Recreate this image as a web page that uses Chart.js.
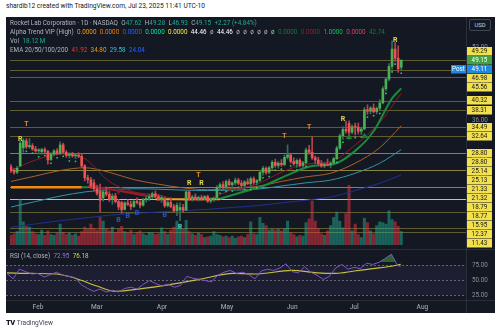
<!DOCTYPE html>
<html>
<head>
<meta charset="utf-8">
<title>RKLB 1D</title>
<script src="https://cdn.jsdelivr.net/npm/chart.js@4.4.1/dist/chart.umd.min.js"></script>
<style>
  html, body { margin: 0; padding: 0; width: 500px; height: 333px; background: #fff; overflow: hidden; font-family: Roboto, "Noto Sans", sans-serif; }
  #credit { position: absolute; left: 6px; top: 2px; font-size: 6.6px; line-height: 9px; color: #131722; white-space: nowrap; }
  #panel { position: absolute; left: 6px; top: 17px; width: 489px; height: 296px; background: #141823; overflow: hidden; }
  #panel canvas { position: absolute; left: 0; }
  .lg { position: absolute; left: 4px; font-size: 6.3px; line-height: 8px; color: #b2b5be; white-space: nowrap; }
  .lg b { font-weight: normal; margin-left: 3.4px; }
  .lg i { font-style: normal; margin-left: 3.4px; }
  #usd { position: absolute; left: 463px; top: 2px; width: 20px; height: 10px; border: 1px solid #434651; border-radius: 2px; background: #141823; color: #d1d4dc; font-size: 5.8px; line-height: 10px; text-align: center; }
  #footer { position: absolute; left: 6px; top: 318px; font-size: 6.6px; line-height: 9px; color: #434651; white-space: nowrap; }
  #footer b { font-weight: 900; font-size: 7.5px; color: #131722; letter-spacing: -0.5px; margin-right: 2px; }
</style>
</head>
<body>
<div id="credit">shardib12 created with TradingView.com, Jul 23, 2025 11:41 UTC-10</div>
<div id="panel">
  <canvas id="price" width="489" height="232" style="top:0"></canvas>
  <canvas id="rsi" width="489" height="64" style="top:232px"></canvas>
  <div class="lg" style="top:2px">Rocket Lab Corporation · 1D · NASDAQ<i>O</i><b style="color:#22ab94;margin:0">47.62</b><i>H</i><b style="color:#22ab94;margin:0">49.28</b><i>L</i><b style="color:#22ab94;margin:0">46.93</b><i>C</i><b style="color:#22ab94;margin:0">49.15</b><b style="color:#22ab94">+2.27 (+4.84%)</b></div>
  <div class="lg" style="top:11px">Alpha Trend VIP (High)<b style="color:#ff9800">0.0000</b><b style="color:#f57c00">0.0000</b><b style="color:#2962ff">0.0000</b><b style="color:#00e5a0">0.0000</b><b style="color:#ffeb3b">0.0000</b><b style="color:#ffffff">44.46</b><b>ø</b><b style="color:#ffffff">44.46</b><b>ø</b><b>ø</b><b>ø</b><b>ø</b><b>ø</b><b>ø</b><b style="color:#1b7a3a">0.0000</b><b style="color:#8e2430">0.0000</b><b style="color:#00c853">1.0000</b><b style="color:#e0405a">0.0000</b><b style="color:#1b7a3a">42.74</b></div>
  <div class="lg" style="top:20px">Vol<b style="color:#22ab94">18.12 M</b></div>
  <div class="lg" style="top:29px">EMA 20/50/100/200<b style="color:#f23645">41.92</b><b style="color:#ff9800">34.80</b><b style="color:#26c6da">29.58</b><b style="color:#2962ff">24.04</b></div>
  <div class="lg" style="top:235px">RSI (14, close)<b style="color:#9c6fe0">72.95</b><b style="color:#d4d63f">76.18</b></div>
  <div id="usd">USD</div>
</div>
<div id="footer"><b>TV</b>TradingView</div>

<script>
// daily bars, Jan 17 2025 (index 0) to Jul 23 2025 (index 127)
var opens = [25.8, 25.0, 24.6, 26.0, 30.0, 31.5, 30.2, 30.4, 29.7, 29.3,
  29.1, 29.6, 29.2, 27.4, 28.6, 29.3, 28.7, 30.6, 29.0, 28.3,
  28.6, 28.2, 28.4, 28.1, 26.0, 23.4, 23.0, 22.3, 21.0, 20.4,
  19.0, 20.3, 19.8, 18.6, 19.4, 18.2, 18.0, 16.5, 17.9, 17.6,
  17.1, 18.2, 18.0, 17.4, 18.6, 18.9, 19.3, 19.9, 19.3, 18.7,
  18.8, 17.3, 18.0, 17.1, 16.2, 16.4, 16.9, 16.3, 20.3, 18.9,
  19.2, 18.9, 19.1, 18.8, 19.3, 18.3, 18.6, 19.0, 21.3, 21.9,
  21.3, 22.6, 21.9, 22.3, 22.9, 22.2, 21.7, 22.5, 22.1, 23.2,
  22.4, 22.8, 24.6, 25.5, 24.6, 25.6, 26.8, 26.1, 26.6, 26.3,
  27.9, 28.4, 27.0, 26.5, 27.2, 26.1, 26.7, 29.5, 29.0, 27.8,
  27.3, 26.5, 26.0, 26.4, 26.2, 26.6, 27.6, 29.9, 32.6, 34.0,
  35.3, 33.4, 34.6, 34.5, 33.6, 34.1, 38.3, 38.0, 38.7, 37.9,
  38.6, 39.8, 42.9, 45.0, 47.8, 51.6, 49.6, 47.62];
var highs = [26.3, 25.4, 25.9, 31.5, 32.0, 32.0, 32.0, 30.9, 30.3, 29.8,
  29.9, 30.0, 29.4, 28.9, 29.6, 29.8, 31.3, 31.0, 29.4, 28.9,
  29.0, 28.7, 28.9, 28.7, 26.3, 24.0, 23.5, 23.0, 21.8, 22.0,
  20.8, 21.4, 20.4, 19.9, 20.0, 18.7, 18.3, 18.2, 18.6, 18.3,
  18.5, 19.0, 18.4, 18.9, 19.3, 19.8, 20.3, 20.5, 19.8, 19.5,
  19.2, 18.4, 19.0, 17.6, 17.9, 18.0, 17.6, 20.7, 20.6, 19.6,
  19.9, 19.4, 19.6, 19.5, 19.6, 19.0, 19.1, 21.7, 22.3, 22.6,
  22.9, 23.1, 22.5, 23.4, 23.3, 22.8, 22.8, 23.2, 23.6, 23.6,
  23.0, 25.0, 25.9, 25.8, 25.9, 27.2, 27.5, 27.0, 27.4, 28.4,
  30.6, 28.8, 27.8, 27.5, 27.6, 27.0, 29.9, 30.5, 32.4, 28.2,
  27.9, 27.2, 26.8, 27.5, 26.9, 27.9, 30.3, 33.0, 34.6, 35.8,
  35.9, 35.0, 35.4, 35.4, 34.5, 38.8, 39.4, 39.0, 39.6, 38.9,
  40.5, 43.4, 45.4, 48.4, 53.4, 53.0, 52.3, 49.28];
var lows = [24.6, 24.2, 24.3, 25.8, 29.0, 29.8, 29.9, 29.4, 29.0, 28.6,
  28.5, 28.9, 26.4, 27.2, 28.2, 28.4, 28.5, 28.7, 27.9, 27.7,
  27.9, 27.6, 27.8, 25.6, 22.7, 22.2, 21.0, 20.5, 19.6, 15.9,
  18.3, 19.4, 18.2, 17.6, 17.9, 16.4, 15.6, 16.3, 17.3, 16.4,
  16.9, 17.7, 16.8, 17.2, 18.1, 18.4, 18.8, 19.0, 18.4, 18.0,
  16.9, 17.0, 16.8, 15.9, 15.1, 14.0, 15.8, 16.2, 18.5, 18.3,
  18.6, 18.3, 18.4, 18.5, 18.0, 17.9, 18.2, 18.8, 20.6, 21.0,
  21.0, 21.6, 21.1, 21.8, 21.9, 21.3, 21.4, 21.9, 21.5, 22.0,
  21.8, 22.6, 24.0, 24.2, 24.3, 25.2, 25.7, 25.5, 25.9, 26.0,
  27.5, 26.6, 26.1, 25.7, 25.8, 25.4, 26.5, 28.6, 27.4, 26.6,
  26.2, 25.7, 25.6, 26.0, 25.6, 26.2, 27.4, 29.6, 31.8, 33.2,
  32.6, 33.0, 32.8, 33.0, 32.9, 33.9, 37.3, 37.4, 37.6, 37.4,
  38.1, 39.6, 42.5, 44.6, 47.2, 48.9, 46.5, 46.93];
var closes = [25.0, 24.6, 25.5, 31.0, 31.6, 30.2, 30.5, 29.7, 29.3, 29.5,
  29.6, 29.2, 27.3, 28.6, 29.3, 28.7, 30.6, 29.0, 28.3, 28.6,
  28.2, 28.4, 28.1, 26.0, 23.4, 23.0, 21.6, 21.0, 20.0, 18.5,
  20.3, 19.8, 18.6, 19.4, 18.2, 17.0, 16.4, 17.9, 17.6, 17.1,
  18.2, 18.0, 17.4, 18.6, 18.9, 19.3, 19.9, 19.3, 18.7, 19.1,
  17.3, 18.0, 17.1, 16.2, 17.4, 16.9, 16.3, 20.3, 18.9, 19.2,
  18.9, 19.1, 18.8, 19.3, 18.3, 18.6, 18.9, 21.3, 21.9, 21.3,
  22.6, 21.9, 22.3, 22.9, 22.2, 21.7, 22.5, 22.1, 23.2, 22.4,
  22.8, 24.6, 25.5, 24.6, 25.6, 26.8, 26.1, 26.6, 26.3, 27.9,
  28.4, 27.0, 26.5, 27.2, 26.1, 26.7, 29.5, 29.0, 27.8, 27.3,
  26.5, 26.0, 26.4, 26.2, 26.6, 27.6, 29.9, 32.6, 34.0, 33.7,
  33.4, 34.6, 34.5, 33.6, 34.1, 38.3, 38.0, 38.7, 37.9, 38.6,
  39.8, 42.9, 45.0, 47.8, 51.6, 49.6, 47.3, 49.15];
// volume in millions of shares
var volumes = [13, 15, 18, 61, 31, 25, 24, 18, 15, 14,
  20, 13, 19, 14, 13, 16, 28, 17, 14, 16,
  13, 15, 12, 18, 24, 21, 28, 22, 20, 37,
  32, 22, 19, 24, 17, 21, 25, 18, 16, 20,
  14, 17, 19, 15, 13, 17, 16, 14, 15, 23,
  18, 14, 20, 24, 32, 28, 21, 33, 18, 15,
  13, 16, 14, 10, 11, 12, 18, 14, 13, 11,
  12, 10, 12, 9, 11, 12, 10, 14, 31, 15,
  14, 37, 29, 26, 20, 21, 20, 21, 19, 22,
  32, 17, 14, 11, 13, 12, 30, 35, 59, 32,
  22, 15, 13, 19, 26, 37, 44, 32, 23, 42,
  80, 19, 28, 14, 10, 36, 30, 19, 15, 26,
  31, 30, 28, 46, 34, 31, 25, 18.12];

// EMAs every 8 bars
var emaIdx = [0, 8, 16, 24, 32, 40, 48, 56, 64, 72, 80, 88, 96, 104, 112, 120, 127];
var ema20 = [25.0, 27.3, 28.6, 27.6, 22.6, 20.3, 19.6, 18.5, 18.8, 20.8, 22.0, 24.6, 26.4, 26.9, 30.6, 35.5, 41.92];
var ema50 = [22.6, 23.8, 25.0, 25.6, 24.6, 23.0, 22.0, 21.2, 20.8, 21.0, 21.5, 22.6, 23.6, 24.4, 26.6, 30.0, 34.8];
var ema100 = [17.0, 18.2, 19.4, 20.3, 20.8, 21.0, 20.9, 20.7, 20.6, 20.7, 20.9, 21.6, 22.3, 22.9, 24.4, 26.6, 29.58];
var ema200 = [12.6, 13.3, 14.0, 14.6, 15.2, 15.6, 15.9, 16.2, 16.5, 16.9, 17.3, 17.9, 18.5, 19.2, 20.6, 22.2, 24.04];

// alpha trend line, split by colour phase
var flatAIdx = [0, 23], flatA = [21.33, 21.33];
var upAIdx = [23, 25], upA = [21.33, 21.33];
var downIdx = [25, 30, 36, 42, 47], downVals = [21.6, 21.1, 20.5, 19.7, 19.2];
var flatBIdx = [47, 68], flatB = [18.7, 18.7];
var upBIdx = [68, 74, 82, 90, 98, 105, 112, 118, 124, 127];
var upB = [18.8, 20.0, 21.6, 24.0, 26.0, 26.4, 29.3, 33.6, 40.8, 43.0];

var dotIdx = [5, 7, 9, 11, 13, 15, 17, 19, 21, 68, 70, 72, 74, 76, 78, 80, 82, 84, 86, 88, 91, 93, 96,
  106, 108, 110, 112, 114, 116, 118, 120, 122, 124, 125, 127];
var dotPrice = [29.2, 28.8, 28.0, 28.3, 26.6, 27.8, 28.1, 27.1, 27.0, 20.0, 20.4, 20.5, 21.3, 20.8, 20.9, 21.2, 23.4, 23.7, 25.1, 25.3, 26.0, 25.1, 25.9,
  26.8, 31.2, 32.0, 32.2, 32.3, 36.7, 37.0, 37.5, 41.9, 46.6, 48.3, 46.3];

var sigIdx = [3, 5, 35, 38, 41, 50, 55, 58, 61, 62, 89, 97, 108, 125];
var sigPrice = [31.8, 35.1, 14.2, 14.9, 15.7, 15.1, 12.5, 22.1, 24.0, 22.1, 32.5, 34.4, 36.2, 53.6];
var sigType = ['R', 'T', 'B', 'B', 'B', 'B', 'Rt', 'R', 'T', 'R', 'T', 'T', 'R', 'R'];
var triUpIdx = [110, 115], triUpPrice = [32.3, 32.5];
var triDownIdx = [35], triDownPrice = [20.5];

var levelValues = [49.29, 46.98, 45.56, 40.32, 38.31, 34.49, 32.64, 28.80, 28.80, 25.14, 25.13,
  21.33, 21.32, 18.79, 18.77, 15.95, 12.37, 11.43];
var lastClose = 49.15, postPrice = 49.11;
var priceTicks = [12, 16, 20, 24, 28, 32, 36, 40, 44, 48, 52, 56];

var rsiIdx = [0, 2, 4, 6, 8, 10, 12, 14, 16, 18, 20, 22, 24, 26, 28, 30, 32, 34, 36, 38, 40, 42, 44, 46, 48, 50,
  52, 54, 56, 58, 60, 62, 64, 66, 68, 70, 72, 74, 76, 78, 80, 82, 84, 86, 88, 90, 92, 94, 96, 98, 100,
  102, 104, 106, 108, 110, 112, 114, 116, 118, 120, 122, 124, 126, 127];
var rsiValues = [61, 52, 68, 64, 60, 61, 55, 59, 63, 58, 56, 54, 42, 36, 31, 35, 30, 33, 30, 36, 38, 35, 43, 49, 44, 40,
  43, 38, 41, 56, 53, 51, 49, 47, 58, 63, 66, 61, 63, 59, 52, 65, 68, 66, 70, 77, 64, 62, 72, 63, 58,
  51, 56, 70, 76, 68, 71, 69, 78, 76, 79.5, 86, 93, 74, 72.95];
var rsiMaIdx = [0, 8, 16, 22, 29, 35, 44, 52, 62, 73, 80, 92, 100, 106, 112, 118, 124, 127];
var rsiMa = [62, 61, 60, 53, 40, 31, 36, 42, 51, 61, 60, 66, 62, 61, 65, 69, 73, 76.18];
var rsiTicks = [25, 50, 75];

var monthStarts = [10, 29, 50, 71, 92, 112, 134];
var monthLabels = ['Feb', 'Mar', 'Apr', 'May', 'Jun', 'Jul', 'Aug'];

(function () {
  var xMin = -0.32, xMax = 148.06;
  var axisFont = { family: 'Roboto', size: 6.3 };
  var isUp = function (i) { return closes[i] >= opens[i]; };
  var pts = function (idx, vals) {
    return idx.map(function (x, k) { return { x: x, y: vals[k] }; });
  };
  var bars = closes.map(function (c, i) { return i; });

  var lineSet = function (idx, vals, color, width, order) {
    return {
      type: 'line', data: pts(idx, vals), borderColor: color, borderWidth: width,
      pointRadius: 0, cubicInterpolationMode: 'monotone', order: order, yAxisID: 'y'
    };
  };

  var sigStyle = {
    R: { text: 'R', color: '#e9d64b' },
    Rt: { text: 'R', color: '#4db6ac' },
    T: { text: 'T', color: '#e08a2c' },
    B: { text: 'B', color: '#2156e0' }
  };
  var boxStyle = {
    level: { bg: '#f2e14c', fg: '#131722' },
    last: { bg: '#43a047', fg: '#ffffff' },
    post: { bg: '#1e88e5', fg: '#ffffff' }
  };

  var noPad = function (s) { s.paddingTop = 0; s.paddingBottom = 0; s.paddingLeft = 0; s.paddingRight = 0; };

  var mainPlugin = {
    id: 'mainExtras',
    beforeDatasetsDraw: function (chart) {
      var ctx = chart.ctx, area = chart.chartArea, y = chart.scales.y;
      ctx.save();
      levelValues.forEach(function (v) {
        var py = Math.round(y.getPixelForValue(v)) + 0.5;
        ctx.strokeStyle = v > 18.7 && v < 18.8 ? 'rgba(232,214,70,0.75)' : 'rgba(190,178,70,0.45)';
        ctx.lineWidth = 1;
        ctx.beginPath();
        ctx.moveTo(area.left, py);
        ctx.lineTo(area.right, py);
        ctx.stroke();
      });
      ctx.restore();
    },
    afterDatasetsDraw: function (chart) {
      var ctx = chart.ctx, x = chart.scales.x, y = chart.scales.y;
      ctx.save();
      ctx.font = 'bold 7px Roboto';
      ctx.textAlign = 'center';
      ctx.textBaseline = 'middle';
      sigIdx.forEach(function (i, k) {
        var st = sigStyle[sigType[k]];
        ctx.fillStyle = st.color;
        ctx.fillText(st.text, x.getPixelForValue(i), y.getPixelForValue(sigPrice[k]));
      });
      ctx.restore();
    },
    afterDraw: function (chart) {
      var ctx = chart.ctx, area = chart.chartArea, y = chart.scales.y;
      var H = 9;
      ctx.save();
      ctx.strokeStyle = '#2a2e39';
      ctx.beginPath();
      ctx.moveTo(area.right + 0.5, 0);
      ctx.lineTo(area.right + 0.5, chart.height);
      ctx.stroke();

      // the last price label stays on its line, the others are pushed away from it
      var items = levelValues.map(function (v) { return { v: v, kind: 'level' }; });
      items.push({ v: lastClose, kind: 'last' });
      items.push({ v: postPrice, kind: 'post' });
      items.sort(function (a, b) { return b.v - a.v; });
      items.forEach(function (it) { it.ly = y.getPixelForValue(it.v); });
      var anchor = items.findIndex(function (it) { return it.kind === 'last'; });
      for (var i = anchor + 1; i < items.length; i++) {
        items[i].ly = Math.max(items[i].ly, items[i - 1].ly + H);
      }
      for (var j = anchor - 1; j >= 0; j--) {
        items[j].ly = Math.min(items[j].ly, items[j + 1].ly - H);
      }

      ctx.font = '6.3px Roboto';
      ctx.textAlign = 'center';
      ctx.textBaseline = 'middle';
      items.forEach(function (it) {
        var st = boxStyle[it.kind];
        var top = Math.round(it.ly - 4.2);
        ctx.fillStyle = st.bg;
        ctx.fillRect(area.right + 1, top, 25, 8.5);
        ctx.fillStyle = st.fg;
        ctx.fillText(it.v.toFixed(2), area.right + 13.5, top + 4.5);
        if (it.kind === 'post') {
          ctx.fillStyle = st.bg;
          ctx.fillRect(area.right - 15, top, 15, 8.5);
          ctx.fillStyle = st.fg;
          ctx.fillText('Post', area.right - 7.5, top + 4.5);
        }
      });
      ctx.restore();
    }
  };

  new Chart(document.getElementById('price'), {
    type: 'bar',
    data: {
      datasets: [
        { type: 'scatter', data: pts(triUpIdx, triUpPrice), pointStyle: 'triangle', pointRadius: 3.6,
          backgroundColor: '#1f7a36', borderWidth: 0, order: 0, yAxisID: 'y' },
        { type: 'scatter', data: pts(triDownIdx, triDownPrice), pointStyle: 'triangle', pointRotation: 180,
          pointRadius: 3.6, backgroundColor: '#7d1f2a', borderWidth: 0, order: 0, yAxisID: 'y' },
        { type: 'scatter', data: pts(dotIdx, dotPrice), pointStyle: 'rect', pointRadius: 1.1,
          backgroundColor: '#22d36a', borderWidth: 0, order: 0, yAxisID: 'y' },
        { data: bars.map(function (i) { return { x: i, y: [opens[i], closes[i]] }; }),
          backgroundColor: bars.map(function (i) { return isUp(i) ? '#4caf50' : '#ef5350'; }),
          barThickness: 2, minBarLength: 1, grouped: false, order: 1, yAxisID: 'y' },
        { data: bars.map(function (i) { return { x: i, y: [lows[i], highs[i]] }; }),
          backgroundColor: bars.map(function (i) { return isUp(i) ? '#2f6f5e' : '#b5444f'; }),
          barThickness: 1, grouped: false, order: 2, yAxisID: 'y' },
        lineSet(upAIdx, upA, '#1b8a3a', 2, 3),
        lineSet(upBIdx, upB, '#1b8a3a', 2, 3),
        lineSet(downIdx, downVals, '#9b1b24', 2.2, 3),
        lineSet(flatAIdx, flatA, '#f08a10', 2.4, 3),
        lineSet(flatBIdx, flatB, '#f0a020', 2.2, 3),
        lineSet(emaIdx, ema20, '#8e1c24', 1, 4),
        lineSet(emaIdx, ema50, '#a8622a', 1, 4),
        lineSet(emaIdx, ema100, '#2f95a5', 1, 4),
        lineSet(emaIdx, ema200, '#22308f', 1, 4),
        { data: bars.map(function (i) { return { x: i, y: volumes[i] }; }),
          backgroundColor: bars.map(function (i) { return isUp(i) ? 'rgba(34,171,148,0.5)' : 'rgba(242,54,69,0.5)'; }),
          barThickness: 2.4, grouped: false, order: 10, yAxisID: 'yVol' }
      ]
    },
    options: {
      responsive: false, animation: false, events: [],
      layout: { padding: 0 },
      plugins: { legend: { display: false }, tooltip: { enabled: false } },
      scales: {
        x: { type: 'linear', min: xMin, max: xMax, offset: false, display: false },
        y: {
          position: 'right', min: 8.68, max: 57.75,
          grid: { display: false, drawTicks: false }, border: { display: false },
          afterFit: function (s) { s.width = 29; noPad(s); },
          afterBuildTicks: function (s) { s.ticks = priceTicks.map(function (v) { return { value: v }; }); },
          ticks: { padding: 6, color: '#8c8f98', font: axisFont, callback: function (v) { return v.toFixed(2); } }
        },
        yVol: { display: false, min: 0, max: 300 }
      }
    },
    plugins: [mainPlugin]
  });

  var rsiPlugin = {
    id: 'rsiBands',
    beforeDatasetsDraw: function (chart) {
      var ctx = chart.ctx, area = chart.chartArea, y = chart.scales.y;
      var top = y.getPixelForValue(75), bottom = y.getPixelForValue(25);
      ctx.save();
      ctx.fillStyle = 'rgba(126,87,194,0.1)';
      ctx.fillRect(area.left, top, area.right - area.left, bottom - top);
      ctx.strokeStyle = 'rgba(120,123,134,0.8)';
      ctx.setLineDash([2, 2]);
      rsiTicks.forEach(function (v) {
        var py = Math.round(y.getPixelForValue(v)) + 0.5;
        ctx.beginPath();
        ctx.moveTo(area.left, py);
        ctx.lineTo(area.right, py);
        ctx.stroke();
      });
      ctx.restore();
    },
    afterDraw: function (chart) {
      var ctx = chart.ctx, area = chart.chartArea;
      ctx.save();
      ctx.strokeStyle = '#2a2e39';
      ctx.beginPath();
      ctx.moveTo(0, 0.5); ctx.lineTo(chart.width, 0.5);
      ctx.moveTo(0, area.bottom + 0.5); ctx.lineTo(chart.width, area.bottom + 0.5);
      ctx.moveTo(area.right + 0.5, 0); ctx.lineTo(area.right + 0.5, chart.height);
      ctx.stroke();
      ctx.restore();
    }
  };

  new Chart(document.getElementById('rsi'), {
    type: 'line',
    data: {
      datasets: [
        { data: pts(rsiMaIdx, rsiMa), borderColor: '#c5c23a', borderWidth: 1.2, pointRadius: 0,
          cubicInterpolationMode: 'monotone', order: 1 },
        { data: pts(rsiIdx, rsiValues), borderColor: '#7e57c2', borderWidth: 1, pointRadius: 0, order: 0,
          fill: { target: { value: 80 }, above: 'rgba(56,142,60,0.65)', below: 'rgba(0,0,0,0)' } }
      ]
    },
    options: {
      responsive: false, animation: false, events: [],
      layout: { padding: 0 },
      plugins: { legend: { display: false }, tooltip: { enabled: false } },
      scales: {
        x: {
          type: 'linear', min: xMin, max: xMax, offset: false,
          grid: { display: false, drawTicks: false }, border: { display: false },
          afterFit: function (s) { s.height = 13; noPad(s); },
          afterBuildTicks: function (s) { s.ticks = monthStarts.map(function (v) { return { value: v }; }); },
          ticks: {
            padding: 3, maxRotation: 0, autoSkip: false, color: '#9598a1',
            font: { family: 'Roboto', size: 6.6, weight: '500' },
            callback: function (v) { return monthLabels[monthStarts.indexOf(v)]; }
          }
        },
        y: {
          position: 'right', min: 16.7, max: 101.7,
          grid: { display: false, drawTicks: false }, border: { display: false },
          afterFit: function (s) { s.width = 29; noPad(s); },
          afterBuildTicks: function (s) { s.ticks = rsiTicks.map(function (v) { return { value: v }; }); },
          ticks: { padding: 6, color: '#8c8f98', font: axisFont, callback: function (v) { return v.toFixed(2); } }
        }
      }
    },
    plugins: [rsiPlugin]
  });
})();
</script>
</body>
</html>
